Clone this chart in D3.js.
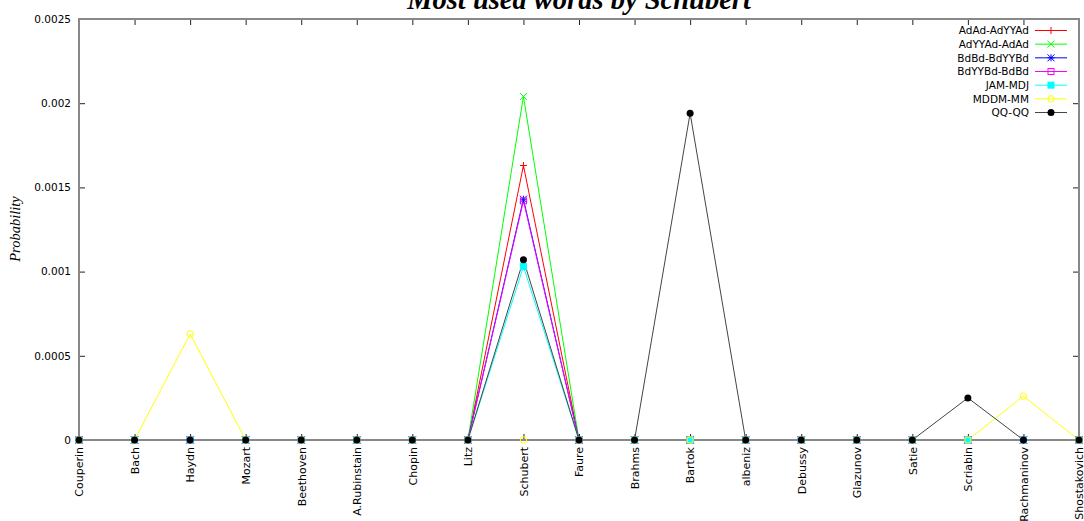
<!DOCTYPE html>
<html><head><meta charset="utf-8">
<script src="https://cdn.jsdelivr.net/npm/d3@7"></script>
<style>
html,body{margin:0;padding:0;background:#fff;}
svg{display:block;}
</style></head>
<body>
<svg id="chart" width="1084" height="521"></svg>
<script>
const composers = ["Couperin","Bach","Haydn","Mozart","Beethoven","A.Rubinstain","Chopin","Litz","Schubert","Faure","Brahms","Bartok","albeniz","Debussy","Glazunov","Satie","Scriabin","Rachmaninov","Shostakovich"];
const seriesNames = ["AdAd-AdYYAd","AdYYAd-AdAd","BdBd-BdYYBd","BdYYBd-BdBd","JAM-MDJ","MDDM-MM","QQ-QQ"];
const adAdAdYYAd   = [0,0,0,0,0,0,0,0,0.00163,0,0,0,0,0,0,0,0,0,0];
const adYYAdAdAd   = [0,0,0,0,0,0,0,0,0.00204,0,0,0,0,0,0,0,0,0,0];
const bdBdBdYYBd   = [0,0,0,0,0,0,0,0,0.00143,0,0,0,0,0,0,0,0,0,0];
const bdYYBdBdBd   = [0,0,0,0,0,0,0,0,0.00142,0,0,0,0,0,0,0,0,0,0];
const jamMdj       = [0,0,0,0,0,0,0,0,0.00103,0,0,0,0,0,0,0,0,0,0];
const mddmMm       = [0,0,0.00063,0,0,0,0,0,0,0,0,0,0,0,0,0,0,0.00026,0];
const qqQq         = [0,0,0,0,0,0,0,0,0.00107,0,0,0.00194,0,0,0,0,0.00025,0,0];
const yTickValues  = [0,0.0005,0.001,0.0015,0.002,0.0025];
const yTickLabels  = ["0","0.0005","0.001","0.0015","0.002","0.0025"];
const colors = ["#ff0000","#00ff00","#0000ff","#ff00ff","#00ffff","#ffff00","#000000"];
const lineColors = ["#ff0000","#00ff00","#0000ff","#ff00ff","#00ffff","#ffff00","#444444"];
const markerTypes = ["plus","x","star","openSquare","filledSquare","openCircle","filledCircle"];
const seriesValues = [adAdAdYYAd,adYYAdAdAd,bdBdBdYYBd,bdYYBdBdBd,jamMdj,mddmMm,qqQq];

const svg = d3.select("#chart");
const L = 79, R = 1079, T = 19, B = 440;
const x = d3.scalePoint().domain(composers).range([L, R]);
const y = d3.scaleLinear().domain([0, 0.0025]).range([B, T]);
const sansFont = "DejaVu Sans, sans-serif";

// title
svg.append("text").attr("x", 579).attr("y", 9).attr("text-anchor","middle")
  .attr("font-family","Liberation Serif, serif").attr("font-weight","bold").attr("font-style","italic")
  .attr("font-size", 28.5).attr("fill","#000").text("Most used words by Schubert");

// y label
svg.append("text").attr("transform","translate(20,229) rotate(-90)").attr("text-anchor","middle")
  .attr("font-family","Liberation Serif, serif").attr("font-style","italic").attr("font-size",14.5)
  .attr("fill","#000").text("Probability");

// axes
const axL = svg.append("g").attr("transform",`translate(${L},0)`)
  .call(d3.axisLeft(y).tickValues(yTickValues).tickFormat((d,i)=>yTickLabels[i]).tickSizeInner(-6).tickSizeOuter(0).tickPadding(8));
const axR = svg.append("g").attr("transform",`translate(${R},0)`)
  .call(d3.axisRight(y).tickValues(yTickValues).tickFormat("").tickSizeInner(-6).tickSizeOuter(0));
const axB = svg.append("g").attr("transform",`translate(0,${B})`)
  .call(d3.axisBottom(x).tickSizeInner(-6).tickSizeOuter(0).tickPadding(7));
const axT = svg.append("g").attr("transform",`translate(0,${T})`)
  .call(d3.axisTop(x).tickFormat("").tickSizeInner(-6).tickSizeOuter(0));
[axL,axR,axB,axT].forEach(g=>{
  g.select(".domain").remove();
  g.selectAll(".tick line").attr("stroke","#222");
  g.selectAll("text").attr("font-family",sansFont).attr("font-size",10.5).attr("fill","#000");
});
axB.selectAll(".tick text").attr("font-size",11).attr("transform","rotate(-90)").attr("text-anchor","end")
  .attr("dy","0.35em").attr("x",-7).attr("y",0);

function drawMarker(g, type, cx, cy, color){
  const s = 3.5;
  if(type==="plus"){
    g.append("path").attr("d",`M${cx-s},${cy}H${cx+s}M${cx},${cy-s}V${cy+s}`).attr("stroke",color).attr("fill","none");
  } else if(type==="x"){
    g.append("path").attr("d",`M${cx-s},${cy-s}L${cx+s},${cy+s}M${cx-s},${cy+s}L${cx+s},${cy-s}`).attr("stroke",color).attr("fill","none");
  } else if(type==="star"){
    g.append("path").attr("d",`M${cx-s},${cy}H${cx+s}M${cx},${cy-s}V${cy+s}M${cx-s},${cy-s}L${cx+s},${cy+s}M${cx-s},${cy+s}L${cx+s},${cy-s}`).attr("stroke",color).attr("fill","none");
  } else if(type==="openSquare"){
    g.append("rect").attr("x",cx-3).attr("y",cy-3).attr("width",6).attr("height",6).attr("stroke",color).attr("fill","none");
  } else if(type==="filledSquare"){
    g.append("rect").attr("x",cx-3.5).attr("y",cy-3.5).attr("width",7).attr("height",7).attr("fill",color);
  } else if(type==="openCircle"){
    g.append("circle").attr("cx",cx).attr("cy",cy).attr("r",3.2).attr("stroke",color).attr("fill","none");
  } else {
    g.append("circle").attr("cx",cx).attr("cy",cy).attr("r",3.5).attr("fill",color);
  }
}

const line = d3.line().x((d,i)=>x(composers[i])).y(d=>y(d));
const linesG = svg.append("g");
seriesValues.forEach((vals, si)=>{
  linesG.append("path").datum(vals).attr("d",line).attr("fill","none")
    .attr("stroke", lineColors[si]).attr("stroke-width",1);
});

// border drawn over the lines
svg.append("rect").attr("x",L).attr("y",T).attr("width",R-L).attr("height",B-T)
  .attr("fill","none").attr("stroke","#888").attr("stroke-width",2);

const marksG = svg.append("g");
seriesValues.forEach((vals, si)=>{
  vals.forEach((v,i)=>drawMarker(marksG, markerTypes[si], x(composers[i]), y(v), colors[si]));
});

// legend
const lg = svg.append("g");
seriesNames.forEach((name, si)=>{
  const yy = 30.5 + si*13.67;
  lg.append("text").attr("x",1029).attr("y",yy).attr("dy","0.35em").attr("text-anchor","end")
    .attr("font-family",sansFont).attr("font-size",10.5).attr("fill","#000").text(name);
  lg.append("line").attr("x1",1035).attr("x2",1067).attr("y1",yy).attr("y2",yy)
    .attr("stroke", lineColors[si]).attr("stroke-width",1);
  drawMarker(lg, markerTypes[si], 1051, yy, colors[si]);
});
</script>
</body></html>
